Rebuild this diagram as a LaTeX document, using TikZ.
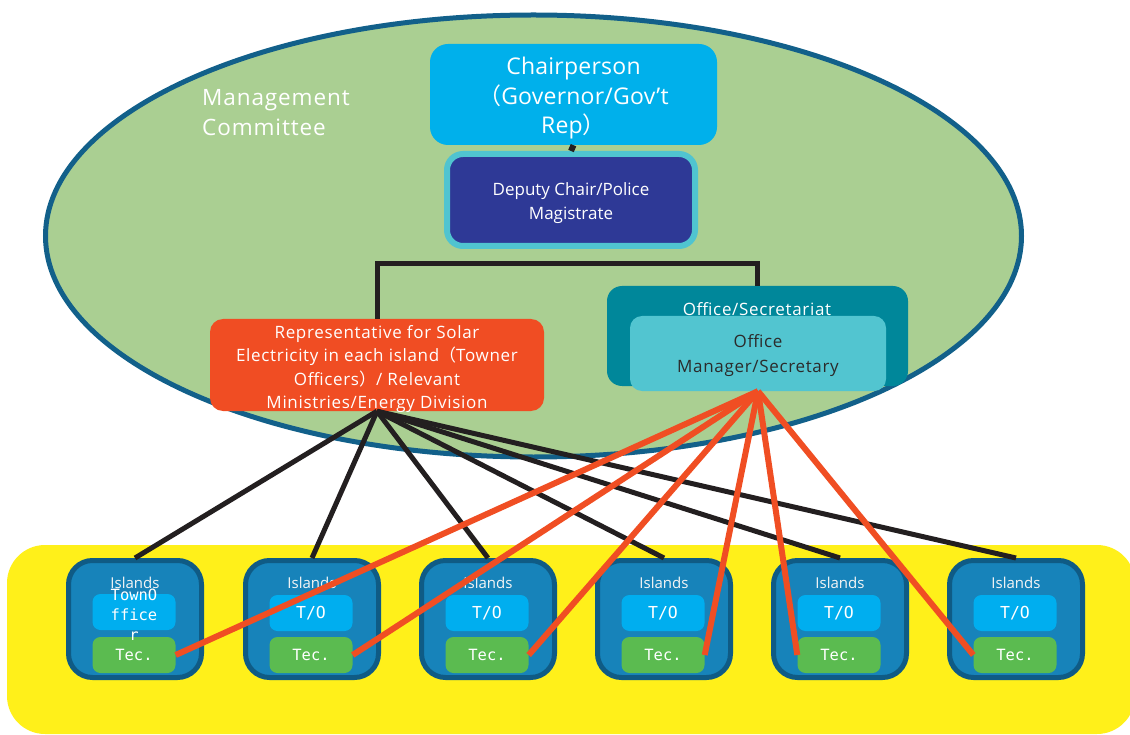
\documentclass[tikz,border=0pt]{standalone}
\usepackage{fontspec}
\setmainfont{Open Sans}
\newfontfamily\widefont{Open Sans}[LetterSpace=4]
\newfontfamily\cjk{Noto Sans CJK SC}
\newfontfamily\monofont{DejaVu Sans Mono}
\definecolor{bandyellow}{HTML}{FFF01A}
\definecolor{cmtgreen}{HTML}{AACF92}
\definecolor{cmtborder}{HTML}{12608A}
\definecolor{chaircyan}{HTML}{00B0EB}
\definecolor{deputyblue}{HTML}{2E3996}
\definecolor{deputyrim}{HTML}{50C4D0}
\definecolor{reporange}{HTML}{F04D23}
\definecolor{officeteal}{HTML}{00879A}
\definecolor{mgrteal}{HTML}{52C5D0}
\definecolor{islrim}{HTML}{0F5B85}
\definecolor{islfill}{HTML}{1783BA}
\definecolor{toblue}{HTML}{00AEEF}
\definecolor{tecgreen}{HTML}{5BBB50}
\definecolor{linkblack}{HTML}{231F20}
\definecolor{linkred}{HTML}{F04E23}
\definecolor{darktext}{HTML}{2B2B2B}
\tikzset{
  card/.style={inner sep=0pt, align=center, text=white},
  islandbox/.style={card, draw=islrim, fill=islfill, line width=5pt,
    rounded corners=24pt, minimum width=133pt, minimum height=117pt},
  smallbox/.style={card, rounded corners=8pt, minimum width=83pt,
    minimum height=36pt, font=\monofont\fontsize{15.5}{20}\selectfont},
  blackline/.style={draw=linkblack, line width=5pt},
  redline/.style={draw=linkred, line width=6pt}
}
\begin{document}
\begin{tikzpicture}[x=1pt,y=-1pt]
\useasboundingbox (0,0) rectangle (1130,735);

% yellow band of the islands
\fill[bandyellow, rounded corners=38pt] (7,545) rectangle (1135,734);

% management committee
\draw[cmtborder, fill=cmtgreen, line width=5pt] (533.5,236) ellipse [x radius=488, y radius=221];
\node[anchor=west, align=left, text=white, inner sep=0pt,
      font=\widefont\fontsize{22.5}{30}\selectfont] (cmt) at (202,113) {Management\\Committee};

% chairperson and deputy
\node[card, fill=chaircyan, rounded corners=18pt, minimum width=287pt, minimum height=101pt]
      (chair) at (573.5,94.5) {};
\node[card, font=\fontsize{23}{29.5}\selectfont\addfontfeatures{LetterSpace=1}] (chairtext) at (573.5,98.5)
      {Chairperson\\{\cjk （}Governor/Gov’t\\Rep{\cjk ）}};
\node[card, fill=deputyblue, draw=deputyrim, line width=6pt, rounded corners=16pt,
      minimum width=248pt, minimum height=92pt] (deputy) at (571,200) {};
\node[card, font=\fontsize{17}{24}\selectfont] (deputytext) at (571,203)
      {Deputy Chair/Police\\Magistrate};
\draw[linkblack, line width=6pt] (chair.south) -- (deputy.north);

% representative and office
\node[card, fill=reporange, rounded corners=13pt, minimum width=334pt, minimum height=92pt]
      (rep) at (377,365) {};
\node[card, font=\widefont\fontsize{17}{23.5}\selectfont] (reptext) at (377,369)
      {Representative for Solar\\Electricity in each island{\cjk （}Towner\\Officers{\cjk ）}/ Relevant\\Ministries/Energy Division};
\node[card, fill=officeteal, rounded corners=15pt, minimum width=301pt, minimum height=100pt]
      (office) at (757.5,336) {};
\node[card, font=\widefont\fontsize{17}{20}\selectfont] (secretariat) at (757,309) {Office/Secretariat};
\node[card, fill=mgrteal, rounded corners=12pt, minimum width=256pt, minimum height=75pt]
      (mgr) at (758,353.5) {};
\node[card, text=darktext, font=\widefont\fontsize{17}{25}\selectfont] (mgrtext) at (758,356)
      {Office\\Manager/Secretary};

% tree from the deputy
\coordinate (junction) at (571,264);
\draw[blackline] (rep.north) |- (junction) -| (office.north);
\draw[linkblack, line width=1pt] (junction) -- ++(0,-3);

% islands
\foreach \i/\cx in {1/135,2/312,3/488,4/664,5/840,6/1016}{
  \node[islandbox] (isl\i) at (\cx,619) {};
  \node[card, text=white!92!gray, font=\fontsize{15}{18}\selectfont] (lbl\i) at (\cx,583) {Islands};
  \node[smallbox, fill=tecgreen] (tec\i) at (\cx-1,655) {Tec.};
}
\node[smallbox, fill=toblue] (to1) at (134,612) {};
\node[card, font=\monofont\fontsize{15.5}{20}\selectfont] (to1text) at (134,615) {TownO\\ffice\\r};
\foreach \i/\cx in {2/312,3/488,4/664,5/840,6/1016}{
  \node[smallbox, fill=toblue, font=\monofont\fontsize{16.5}{20}\selectfont] (to\i) at (\cx-1,613) {T/O};
}

% links from the representative
\foreach \i in {1,...,6}{
  \draw[blackline] (rep.south) -- (isl\i.north);
}
% links from the office manager
\foreach \i/\a in {1/east,2/east,3/east,4/east,5/west,6/west}{
  \draw[redline] (mgr.south) -- (tec\i.\a);
}
\end{tikzpicture}
\end{document}
